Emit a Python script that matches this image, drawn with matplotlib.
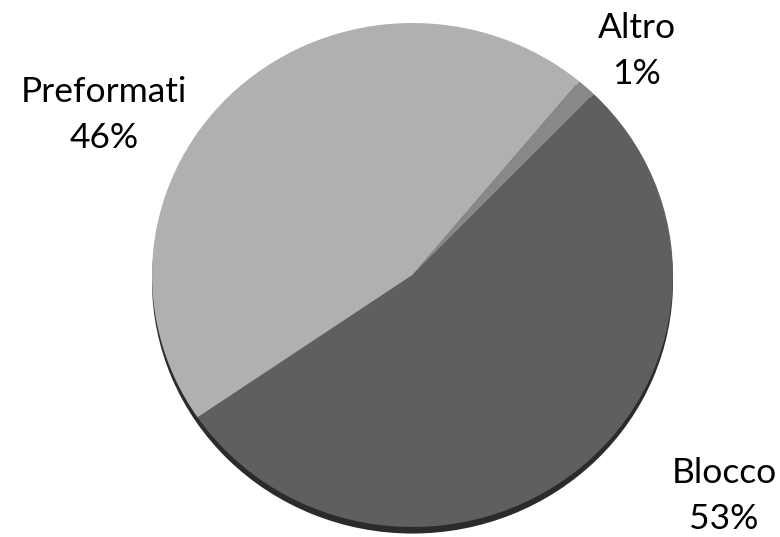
import matplotlib
matplotlib.use("Agg")
import matplotlib.pyplot as plt

# dati della torta
categorie = ["Blocco", "Altro", "Preformati"]
quote = [53.2, 1.2, 45.6]
etichette_pct = ["53%", "1%", "46%"]
colori = ["#5f5f5f", "#888888", "#b0b0b0"]

W, H = 780, 537
fig = plt.figure(figsize=(W / 100, H / 100), dpi=100)
ax = fig.add_axes([0, 0, 1, 1])
ax.set_axis_off()

# centro e raggi in pixel (leggera inclinazione 3D -> ellisse)
cx, cy = 412.5, 262.0
rx, ry = 260.5, 252.0

# bordo scuro sotto (effetto spessore)
ax.pie([1], colors=["#2b2b2b"], radius=1.0, center=(0, -0.026),
       wedgeprops=dict(linewidth=0), frame=True)
ax.pie(quote, colors=colori, startangle=-145.6, counterclock=True,
       radius=1.0, wedgeprops=dict(linewidth=0), frame=True)

ax.set_aspect("auto")
ax.set_xlim(-cx / rx, (W - cx) / rx)
ax.set_ylim(-cy / ry, (H - cy) / ry)
ax.set_axis_off()

# etichette esterne
pos = {"Blocco": (724, 496), "Altro": (637, 51), "Preformati": (104, 115)}
for nome, pct in zip(categorie, etichette_pct):
    x, y = pos[nome]
    fig.text(x / W, 1 - y / H, f"{nome}\n{pct}", ha="center", va="center",
             fontsize=25.5, family=["Lato", "DejaVu Sans"], color="black",
             linespacing=1.55)

fig.savefig("out.png", dpi=100)
